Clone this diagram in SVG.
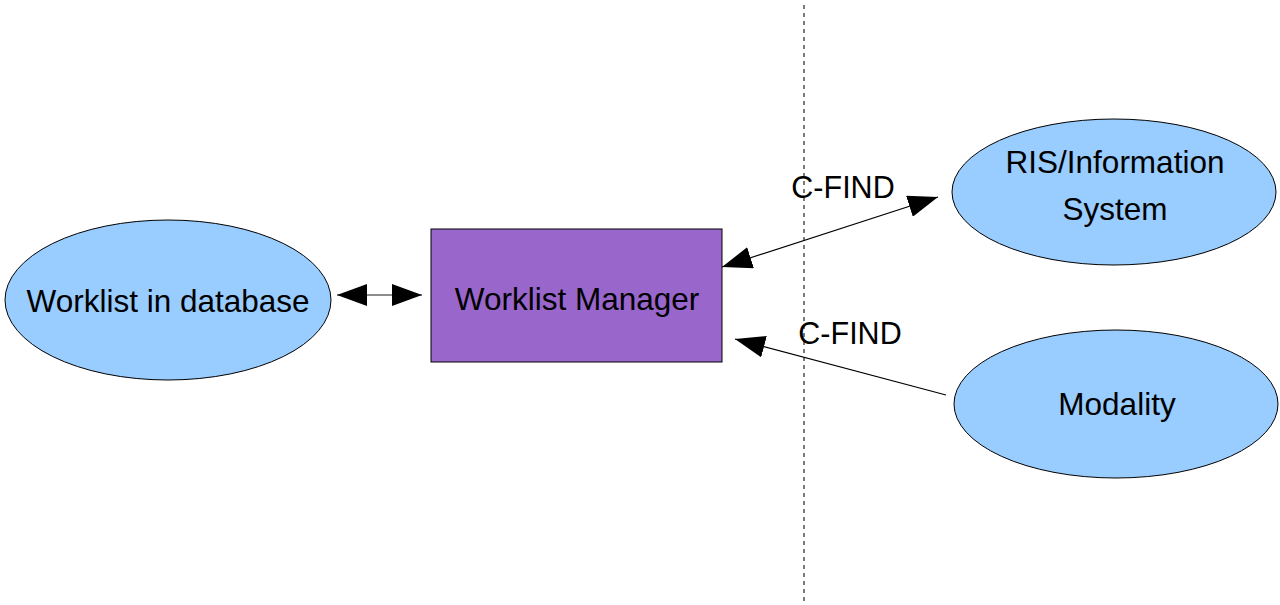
<svg xmlns="http://www.w3.org/2000/svg" width="1280" height="605" viewBox="0 0 1280 605">
<style>
.ell{fill:#99ccff;stroke:#000;stroke-width:1}
.t{font-family:"Liberation Sans",Arial,sans-serif;font-size:31.5px;fill:#000;text-anchor:middle}
.c{stroke:#000;stroke-width:1.2;fill:none}
</style>
<defs>
<marker id="ah" viewBox="0 0 30 22" refX="30" refY="11" markerWidth="30" markerHeight="22" markerUnits="userSpaceOnUse" orient="auto-start-reverse">
<path d="M0,0 L30,11 L0,22 Z" fill="#000"/>
</marker>
</defs>
<rect width="1280" height="605" fill="#fff"/>
<line x1="804" y1="5" x2="804" y2="605" stroke="#222" stroke-width="1.2" stroke-dasharray="4,4"/>
<g id="db"><ellipse class="ell" cx="168" cy="300" rx="163" ry="80"/><text class="t" x="168" y="312">Worklist in database</text></g>
<g id="wm"><rect x="431" y="229" width="291" height="133" fill="#9966cc" stroke="#000" stroke-width="1"/><text class="t" x="577" y="310">Worklist Manager</text></g>
<g id="ris"><ellipse class="ell" cx="1114" cy="192" rx="162" ry="73"/><text class="t" x="1115" y="173">RIS/Information</text><text class="t" x="1115" y="220">System</text></g>
<g id="mod"><ellipse class="ell" cx="1116" cy="404" rx="162" ry="74"/><text class="t" x="1117" y="415">Modality</text></g>
<g id="connectors">
<line x1="337" y1="295" x2="422" y2="295" stroke="#666" stroke-width="1.5" marker-start="url(#ah)" marker-end="url(#ah)"/>
<line class="c" x1="722" y1="267" x2="938" y2="197" marker-start="url(#ah)" marker-end="url(#ah)"/>
<line class="c" x1="946" y1="395" x2="735" y2="339" marker-end="url(#ah)"/>
<text class="t" x="843" y="198" style="font-size:30.5px">C-FIND</text>
<text class="t" x="850" y="344" style="font-size:30.5px">C-FIND</text>
</g>
</svg>
